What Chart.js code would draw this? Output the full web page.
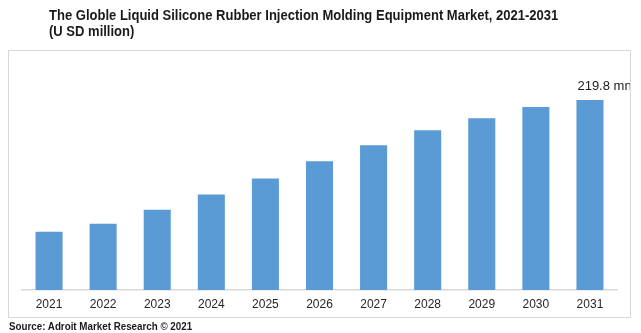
<!DOCTYPE html>
<html>
<head>
<meta charset="utf-8">
<script src="https://cdn.jsdelivr.net/npm/chart.js@4"></script>
<style>
  body { margin: 0; background: #fff; width: 641px; height: 333px; position: relative; overflow: hidden; }
  #marketChart { position: absolute; left: 0; top: 0; width: 641px; height: 333px; }
  .title {
    position: absolute; left: 49px; top: 7px;
    font: bold 14px "Liberation Sans Narrow", "Arial Narrow", "Liberation Sans", sans-serif;
    line-height: 16px; color: #1a1a1a;
    transform: scaleX(0.93); transform-origin: left top; white-space: nowrap;
  }
  .source {
    position: absolute; left: 9px; top: 320px;
    font: bold 11px "Liberation Sans Narrow", "Arial Narrow", "Liberation Sans", sans-serif;
    color: #1a1a1a;
    transform: scaleX(0.89); transform-origin: left top; white-space: nowrap;
  }
</style>
</head>
<body>

<canvas id="marketChart" width="641" height="333"></canvas>
<div class="title">The Globle Liquid Silicone Rubber Injection Molding Equipment Market, 2021-2031<br>(U SD million)</div>
<div class="source">Source: Adroit Market Research © 2021</div>

<script>
// =============================
// DATA
// =============================

const years = ['2021', '2022', '2023', '2024', '2025', '2026', '2027', '2028', '2029', '2030', '2031'];
const marketValues = [67.5, 76.8, 93.0, 110.5, 129.1, 148.9, 167.5, 184.9, 198.9, 211.7, 219.8];
const valueLabels = ['', '', '', '', '', '', '', '', '', '', '219.8 mn'];


// =============================
// FRAME + VALUE LABEL PLUGINS
// =============================

const frameBox = { x: 8.5, y: 50.5, w: 622, h: 267 };

const framePlugin = {
  id: 'frame',
  beforeDraw(chart) {
    const ctx = chart.ctx;
    ctx.save();
    ctx.strokeStyle = '#d9d9d9';
    ctx.lineWidth = 1;
    ctx.strokeRect(frameBox.x, frameBox.y, frameBox.w, frameBox.h);
    ctx.restore();
  }
};

const valueLabelPlugin = {
  id: 'valueLabel',
  afterDatasetsDraw(chart) {
    const ctx = chart.ctx;
    const bars = chart.getDatasetMeta(0).data;

    ctx.save();
    // labels stay inside the frame
    ctx.beginPath();
    ctx.rect(frameBox.x, frameBox.y, frameBox.w - 0.5, frameBox.h);
    ctx.clip();

    ctx.font = '13px "Liberation Sans", Arial, sans-serif';
    ctx.fillStyle = '#1a1a1a';
    ctx.textAlign = 'left';
    ctx.textBaseline = 'alphabetic';

    bars.forEach((bar, i) => {
      if (!valueLabels[i]) return;
      ctx.fillText(valueLabels[i], bar.x - bar.width / 2 + 1, bar.y - 10);
    });

    ctx.restore();
  }
};


// =============================
// BAR CHART
// =============================

const chartCtx = document.getElementById('marketChart');

new Chart(chartCtx, {

  type: 'bar',

  data: {
    labels: years,

    datasets: [{
      data: marketValues,
      backgroundColor: '#5b9bd5',
      barPercentage: 0.5,
      categoryPercentage: 1
    }]
  },

  options: {
    responsive: false,
    animation: false,
    layout: {
      padding: { left: 22, right: 24, top: 74, bottom: 14.6 }
    },
    plugins: {
      legend: { display: false },
      tooltip: { enabled: false }
    },
    scales: {
      x: {
        grid: { display: false, drawTicks: false },
        border: { color: '#d9d9d9', width: 1.5 },
        ticks: {
          color: '#262626',
          padding: 7,
          maxRotation: 0,
          font: { family: '"Liberation Sans", Arial, sans-serif', size: 12 }
        }
      },
      y: {
        display: false,
        min: 0,
        max: 250
      }
    }
  },

  plugins: [framePlugin, valueLabelPlugin]

});
</script>
</body>
</html>
